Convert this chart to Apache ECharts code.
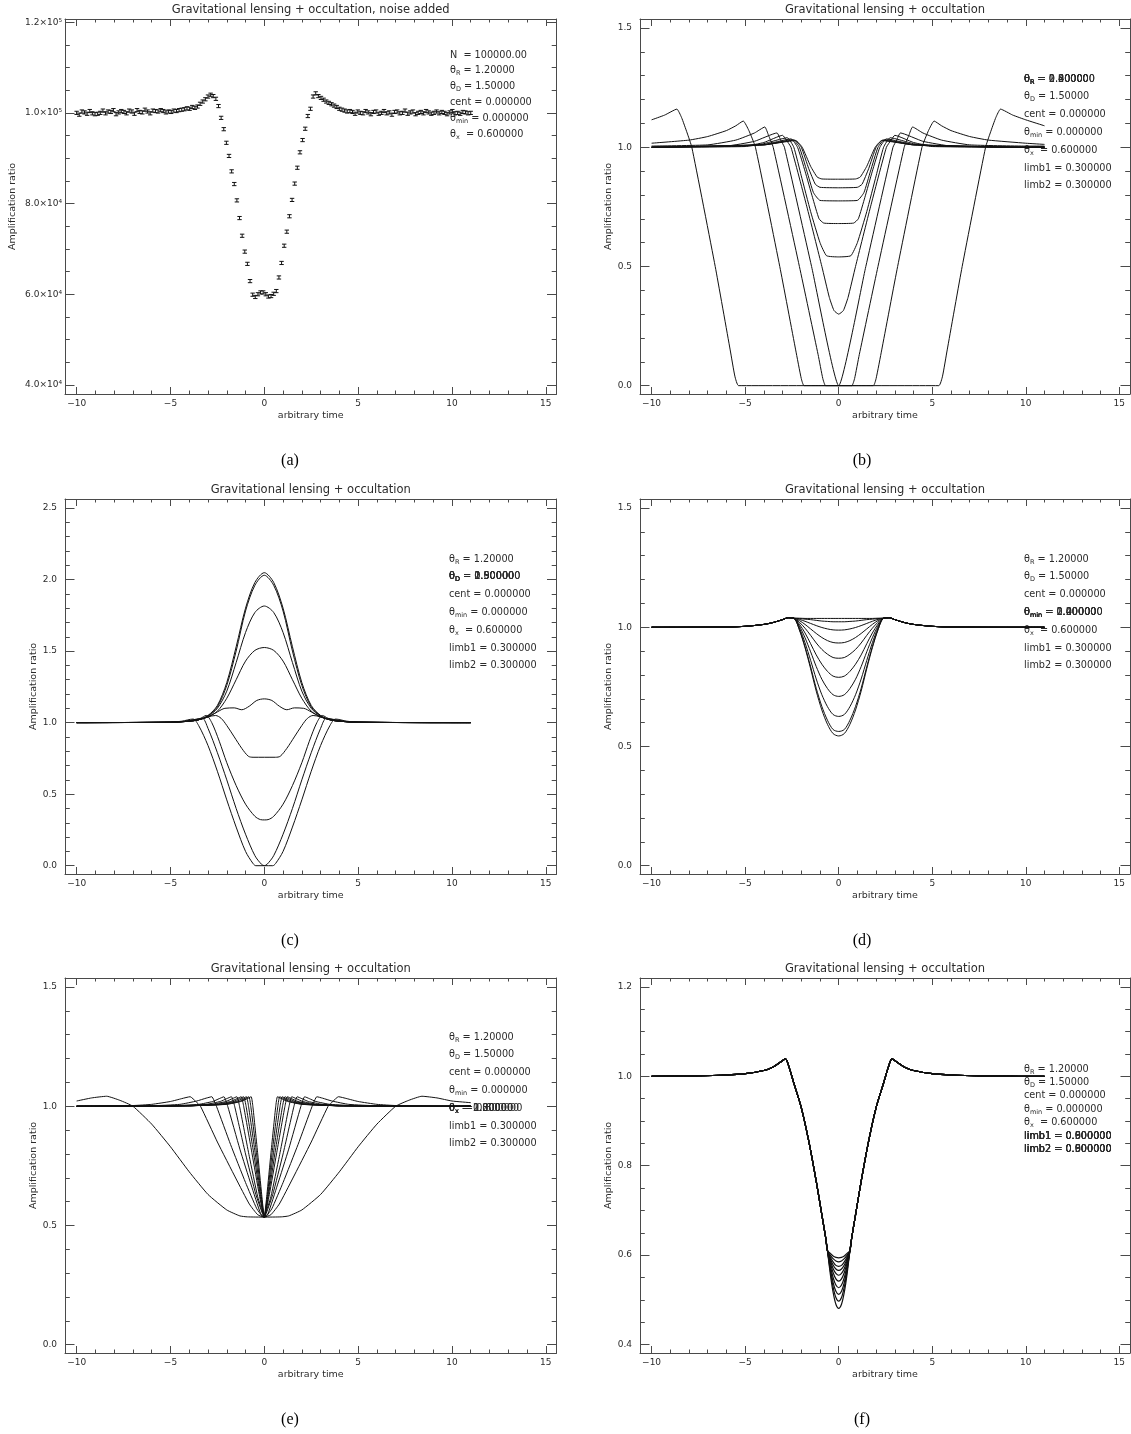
<!DOCTYPE html>
<html>
<head>
<meta charset="utf-8">
<script src="https://cdn.jsdelivr.net/npm/echarts@6/dist/echarts.min.js"></script>
<style>
  html, body { margin: 0; padding: 0; background: #fff; }
  #fig { width: 1131px; height: 1434px; }
</style>
</head>
<body>
<div id="fig"></div>
<script>
// ---- shared time axis ----
const xRange = [-10.62, 15.57]
const xMajor = [-10, -5, 0, 5, 10, 15]
const xMinor = [-10, -9, -8, -7, -6, -5, -4, -3, -2, -1, 0, 1, 2, 3, 4, 5, 6, 7, 8, 9, 10, 11, 12, 13, 14, 15]

// ---- (a) noisy counts, one sample every 0.14 from t = -10 ----
const aStart = -10
const aStep = 0.14
const aCounts = [
  100000, 99600, 100300, 100100, 99800, 100400, 99900, 99700, 99800, 100000,
  100500, 99900, 100300, 100200, 100600, 99700, 100100, 100400, 100200, 99900,
  100500, 100300, 99800, 100600, 100200, 100100, 100700, 100300, 99900, 100500,
  100400, 100300, 100600, 100400, 100100, 100300, 100200, 100500, 100400, 100600,
  100700, 100800, 101000, 100900, 101300, 101100, 101400, 102000, 102500, 103000,
  103600, 104000, 103700, 103100, 101500, 98900, 96400, 93400, 90500, 87100,
  84300, 80700, 76800, 72900, 69400, 66700, 62900, 59900, 59400, 60000,
  60400, 60400, 60000, 59500, 59600, 60100, 60700, 63700, 66900, 70700,
  73800, 77200, 80800, 84400, 87900, 91300, 94000, 96500, 99300, 100900,
  103600, 104300, 103700, 103300, 102900, 102500, 102200, 101900, 101600, 101300,
  100900, 100700, 100500, 100300, 100400,
  100200, 99800, 100300, 100000, 99900, 100400, 100100, 99700, 100200, 100300,
  99800, 100000, 100400, 99900, 100100, 99600, 100200, 100300, 99900, 100000,
  100500, 99800, 100100, 100300, 99700, 100000, 100200, 99900, 100400, 100100,
  99800, 100000, 100300, 99900, 100200, 100000, 99700, 100100, 100400, 99900,
  100000, 99800, 100200, 100100, 99900, 100000
]
const aErr = 350
const aYMajor = [40000, 60000, 80000, 100000, 120000]
const aYLabels = ['4.0×10⁴', '6.0×10⁴', '8.0×10⁴', '1.0×10⁵', '1.2×10⁵']
const aYMinor = [40000, 45000, 50000, 55000, 60000, 65000, 70000, 75000, 80000, 85000,
  90000, 95000, 100000, 105000, 110000, 115000, 120000]

// ---- (b)-(f): curves are symmetric in t; left halves [t, ratio] up to t = 0, plus value at t = 11 ----
const bHalves = [
  [[-10, 1.115], [-9.3, 1.135], [-8.65, 1.16], [-8.4, 1.125], [-8.1, 1.06], [-7.85, 1.0], [-6.6, 0.5], [-5.8, 0.15], [-5.55, 0.04], [-5.35, 0], [0, 0]],
  [[-10, 1.017], [-8, 1.03], [-7, 1.045], [-6, 1.07], [-5.5, 1.09], [-5.1, 1.11], [-4.8, 1.07], [-4.45, 1.0], [-3.15, 0.5], [-2.3, 0.15], [-2.0, 0.03], [-1.85, 0], [0, 0]],
  [[-10, 1.005], [-7, 1.01], [-5.5, 1.03], [-4.5, 1.06], [-3.95, 1.085], [-3.75, 1.05], [-3.5, 1.0], [-2.1, 0.5], [-1.1, 0.13], [-0.85, 0.03], [-0.7, 0], [0, 0]],
  [[-10, 1.0], [-6, 1.005], [-4.5, 1.025], [-3.3, 1.06], [-3.1, 1.03], [-2.9, 1.0], [-1.45, 0.5], [0, 0]],
  [[-10, 1.0], [-5, 1.005], [-4, 1.02], [-3, 1.05], [-2.8, 1.03], [-2.55, 1.0], [-1.7, 0.75], [-0.9, 0.5], [-0.5, 0.37], [-0.25, 0.315], [0, 0.3]],
  [[-10, 1.0], [-5, 1.003], [-4, 1.015], [-2.75, 1.04], [-2.4, 1.0], [-2.0, 0.88], [-1.5, 0.73], [-1.0, 0.6], [-0.65, 0.545], [0, 0.54]],
  [[-10, 1.0], [-4, 1.012], [-2.55, 1.035], [-2.2, 1.0], [-1.8, 0.9], [-1.4, 0.79], [-1.05, 0.7], [-0.8, 0.682], [0, 0.68]],
  [[-10, 1.0], [-4, 1.01], [-2.45, 1.032], [-2.1, 1.0], [-1.7, 0.9], [-1.35, 0.81], [-1.0, 0.777], [0, 0.775]],
  [[-10, 1.0], [-4, 1.01], [-2.35, 1.03], [-2.0, 1.0], [-1.6, 0.91], [-1.25, 0.845], [-1.0, 0.832], [0, 0.83]],
  [[-10, 1.0], [-4, 1.01], [-2.3, 1.028], [-1.95, 1.0], [-1.5, 0.92], [-1.15, 0.875], [-0.9, 0.867], [0, 0.866]]
]
const bTails = [1.09, 1.012, 1.005, 1.003, 1.0, 1.0, 1.0, 1.0, 1.0, 1.0]

const cHalves = [
  [[-10, 1], [-5, 1.003], [-4, 1.01], [-3.5, 1.02], [-3, 1.05], [-2.5, 1.12], [-2, 1.28], [-1.5, 1.53], [-1, 1.8], [-0.5, 1.98], [0, 2.048]],
  [[-10, 1], [-5, 1.003], [-4, 1.01], [-3.5, 1.02], [-3, 1.048], [-2.5, 1.11], [-2, 1.26], [-1.5, 1.5], [-1, 1.78], [-0.5, 1.96], [0, 2.03]],
  [[-10, 1], [-5, 1.003], [-4, 1.01], [-3.5, 1.02], [-3, 1.045], [-2.5, 1.1], [-2, 1.22], [-1.5, 1.42], [-1, 1.63], [-0.5, 1.77], [0, 1.815]],
  [[-10, 1], [-5, 1.003], [-4, 1.01], [-3.5, 1.02], [-3, 1.04], [-2.5, 1.08], [-2, 1.17], [-1.5, 1.3], [-1, 1.43], [-0.5, 1.505], [0, 1.525]],
  [[-10, 1], [-5, 1.003], [-4, 1.01], [-3.5, 1.02], [-3, 1.04], [-2.5, 1.075], [-2.1, 1.1], [-1.6, 1.103], [-1.2, 1.09], [-0.8, 1.115], [-0.4, 1.155], [0, 1.166]],
  [[-10, 1], [-5, 1.003], [-4, 1.01], [-3.5, 1.02], [-3, 1.04], [-2.6, 1.05], [-2.3, 1.03], [-2, 0.98], [-1.6, 0.9], [-1.2, 0.82], [-0.85, 0.765], [-0.6, 0.758], [0, 0.758]],
  [[-10, 1], [-5, 1.003], [-4, 1.012], [-3.4, 1.03], [-3.1, 1.05], [-2.8, 1.0], [-2.4, 0.87], [-2, 0.72], [-1.5, 0.56], [-1, 0.43], [-0.5, 0.345], [-0.2, 0.322], [0, 0.32]],
  [[-10, 1], [-5, 1.003], [-4.2, 1.01], [-3.6, 1.025], [-3.3, 1.03], [-3, 0.96], [-2.5, 0.79], [-2, 0.6], [-1.5, 0.4], [-1, 0.22], [-0.5, 0.07], [-0.15, 0.01], [0, 0]],
  [[-10, 1], [-5, 1.003], [-4.4, 1.01], [-3.8, 1.025], [-3.5, 0.98], [-3, 0.84], [-2.5, 0.66], [-2, 0.46], [-1.5, 0.27], [-1, 0.1], [-0.6, 0.015], [-0.45, 0], [0, 0]]
]
const cTails = [1, 1, 1, 1, 1, 1, 1, 1, 1]

// (d) shared shoulder, then dips of different depth
const dShoulder = [[-10, 1], [-6, 1.001], [-5, 1.004], [-4, 1.012], [-3.5, 1.02], [-3, 1.032], [-2.7, 1.04], [-2.4, 1.038]]
const dDipT = [-2.1, -1.8, -1.5, -1.2, -0.9, -0.6, -0.3, 0]
const dDips = [
  [1.038, 1.037, 1.037, 1.037, 1.037, 1.037, 1.037, 1.037],
  [1.0365, 1.034, 1.032, 1.029, 1.026, 1.0245, 1.023, 1.023],
  [1.033, 1.025, 1.016, 1.007, 0.999, 0.993, 0.989, 0.988],
  [1.028, 1.012, 0.993, 0.974, 0.957, 0.944, 0.936, 0.934],
  [1.021, 0.996, 0.966, 0.934, 0.907, 0.887, 0.873, 0.87],
  [1.013, 0.976, 0.931, 0.884, 0.845, 0.815, 0.795, 0.79],
  [1.005, 0.956, 0.897, 0.835, 0.782, 0.743, 0.717, 0.71],
  [0.997, 0.935, 0.861, 0.783, 0.717, 0.667, 0.634, 0.626],
  [0.99, 0.919, 0.834, 0.744, 0.668, 0.61, 0.571, 0.563],
  [0.989, 0.914, 0.826, 0.732, 0.653, 0.593, 0.554, 0.544]
]

const eHalves = [
  [[-10, 1.022], [-9.2, 1.035], [-8.4, 1.042], [-7.7, 1.025], [-7, 1.0], [-6, 0.925], [-5, 0.83], [-4, 0.725], [-3, 0.63], [-2, 0.565], [-1.3, 0.54], [-0.9, 0.536], [0, 0.535]],
  [[-10, 1.0], [-7, 1.003], [-6, 1.008], [-5, 1.02], [-4.4, 1.032], [-3.95, 1.04], [-3.65, 1.02], [-3.4, 1.0], [-2.5, 0.85], [-1.5, 0.695], [-0.8, 0.59], [-0.35, 0.545], [0, 0.535]],
  [[-10, 1], [-6, 1.002], [-4.5, 1.008], [-3.6, 1.022], [-3.1, 1.034], [-2.8, 1.04], [-2.55, 1.0], [-1.8, 0.84], [-1.0, 0.68], [-0.4, 0.57], [-0.1, 0.538], [0, 0.535]],
  [[-10, 1], [-5, 1.002], [-3.5, 1.008], [-2.75, 1.02], [-2.4, 1.032], [-2.15, 1.04], [-1.95, 1.0], [-1.3, 0.82], [-0.7, 0.67], [-0.2, 0.55], [0, 0.535]],
  [[-10, 1], [-4.5, 1.002], [-3.1, 1.008], [-2.35, 1.02], [-2.0, 1.032], [-1.75, 1.04], [-1.58, 1.0], [-1.0, 0.8], [-0.45, 0.63], [-0.1, 0.55], [0, 0.535]],
  [[-10, 1], [-4, 1.002], [-2.8, 1.008], [-2.05, 1.02], [-1.7, 1.032], [-1.46, 1.04], [-1.32, 1.0], [-0.8, 0.79], [-0.35, 0.62], [-0.05, 0.545], [0, 0.535]],
  [[-10, 1], [-4, 1.002], [-2.6, 1.008], [-1.8, 1.02], [-1.45, 1.032], [-1.23, 1.04], [-1.1, 1.0], [-0.65, 0.8], [-0.27, 0.63], [0, 0.535]],
  [[-10, 1], [-4, 1.002], [-2.4, 1.008], [-1.65, 1.02], [-1.3, 1.032], [-1.1, 1.04], [-0.97, 1.0], [-0.56, 0.8], [-0.23, 0.63], [0, 0.535]],
  [[-10, 1], [-4, 1.002], [-2.25, 1.008], [-1.5, 1.02], [-1.15, 1.032], [-0.95, 1.04], [-0.84, 1.0], [-0.48, 0.8], [-0.2, 0.63], [0, 0.535]],
  [[-10, 1], [-4, 1.002], [-2.1, 1.008], [-1.35, 1.02], [-1.02, 1.032], [-0.82, 1.04], [-0.72, 1.0], [-0.41, 0.8], [-0.17, 0.63], [0, 0.535]],
  [[-10, 1], [-4, 1.002], [-2.0, 1.008], [-1.25, 1.02], [-0.9, 1.032], [-0.7, 1.04], [-0.61, 1.0], [-0.35, 0.8], [-0.14, 0.63], [0, 0.535]]
]
const eTails = [1.015, 1.003, 1, 1, 1, 1, 1, 1, 1, 1, 1]

// (f) shared flank, bottoms differ with limb darkening
const fFlank = [[-10, 1.0], [-8, 1.001], [-6, 1.003], [-5, 1.006], [-4, 1.013], [-3.5, 1.021], [-3.1, 1.032], [-2.85, 1.039], [-2.65, 1.02],
  [-2.4, 0.985], [-2.0, 0.93], [-1.6, 0.855], [-1.2, 0.765], [-0.9, 0.69], [-0.7, 0.64], [-0.6, 0.61]]
const fBottomT = [-0.45, -0.3, -0.15, 0]
const fBottoms = [
  [0.604, 0.598, 0.595, 0.594],
  [0.600, 0.592, 0.587, 0.585],
  [0.596, 0.585, 0.577, 0.575],
  [0.592, 0.578, 0.569, 0.566],
  [0.588, 0.570, 0.559, 0.555],
  [0.583, 0.561, 0.547, 0.542],
  [0.577, 0.550, 0.533, 0.527],
  [0.571, 0.539, 0.519, 0.512],
  [0.565, 0.529, 0.505, 0.497],
  [0.558, 0.517, 0.490, 0.481]
]

// y ticks
const unitMajor = [0, 0.5, 1.0, 1.5]
const unitMinor = [0, 0.1, 0.2, 0.3, 0.4, 0.5, 0.6, 0.7, 0.8, 0.9, 1.0, 1.1, 1.2, 1.3, 1.4, 1.5]
const cMajor = [0, 0.5, 1.0, 1.5, 2.0, 2.5]
const cMinor = [0, 0.1, 0.2, 0.3, 0.4, 0.5, 0.6, 0.7, 0.8, 0.9, 1.0, 1.1, 1.2, 1.3, 1.4, 1.5,
  1.6, 1.7, 1.8, 1.9, 2.0, 2.1, 2.2, 2.3, 2.4, 2.5]
const fMajor = [0.4, 0.6, 0.8, 1.0, 1.2]
const fMinor = [0.4, 0.45, 0.5, 0.55, 0.6, 0.65, 0.7, 0.75, 0.8, 0.85, 0.9, 0.95, 1.0, 1.05, 1.1, 1.15, 1.2]

// ---- styling / layout ----
const FONT = 'DejaVu Sans'
const INK = '#111'
const AXIS = '#4a4a4a'
const TEXT = '#2b2b2b'
const TITLE = 'Gravitational lensing + occultation'

const mirror = (half, tail) => {
  const right = half.slice(0, -1).reverse().map(([t, v]) => [-t, v])
  return [...half, ...right, [11, tail]]
}

const bCurves = bHalves.map((h, i) => mirror(h, bTails[i]))
const cCurves = cHalves.map((h, i) => mirror(h, cTails[i]))
const dCurves = dDips.map(d => mirror([...dShoulder, ...dDipT.map((t, j) => [t, d[j]])], 1.0))
const eCurves = eHalves.map((h, i) => mirror(h, eTails[i]))
const fCurves = fBottoms.map(b => mirror([...fFlank, ...fBottomT.map((t, j) => [t, b[j]])], 1.0))
const aTimes = aCounts.map((_, i) => +(aStart + i * aStep).toFixed(2))

const baseNotes = [
  ['θ', 'R', ' = 1.20000'], ['θ', 'D', ' = 1.50000'], ['cent', '', ' = 0.000000'],
  ['θ', 'min', ' = 0.000000'], ['θ', 'x', '  = 0.600000'], ['limb1', '', ' = 0.300000'], ['limb2', '', ' = 0.300000']
]
const aNotes = [
  ['N', '', '  = 100000.00'], ['θ', 'R', ' = 1.20000'], ['θ', 'D', ' = 1.50000'],
  ['cent', '', ' = 0.000000'], ['θ', 'min', ' = 0.000000'], ['θ', 'x', '  = 0.600000']
]

const fmt1 = v => Number(v).toFixed(1)
const panels = [
  { left: 65, top: 19, width: 491.5, yRange: [38000, 120700], yMajor: aYMajor, yMinor: aYMinor,
    yFmt: v => aYLabels[aYMajor.findIndex(m => Math.abs(m - v) < 1)], nameGap: 47, labelMargin: 3,
    title: TITLE + ', noise added', caption: '(a)', capX: 290,
    note: { x: 450, y: 55, dy: 15.8, lines: aNotes, over: [] } },
  { left: 640, top: 19, width: 490, yRange: [-0.035, 1.538], yMajor: unitMajor, yMinor: unitMinor,
    yFmt: fmt1, nameGap: 26, labelMargin: 8, title: TITLE, caption: '(b)', capX: 862, curves: bCurves, smooth: 0.15,
    note: { x: 1024, y: 79, dy: 17.8, lines: baseNotes, over: [[0, ['0.400000', '0.800000', '2.00000']]] } },
  { left: 65, top: 499, width: 491.5, yRange: [-0.058, 2.563], yMajor: cMajor, yMinor: cMinor,
    yFmt: fmt1, nameGap: 26, labelMargin: 8, title: TITLE, caption: '(c)', capX: 290, curves: cCurves, smooth: 0.3,
    note: { x: 449, y: 559, dy: 17.8, lines: baseNotes, over: [[1, ['0.500000', '0.900000', '2.00000']]] } },
  { left: 640, top: 499, width: 490, yRange: [-0.035, 1.538], yMajor: unitMajor, yMinor: unitMinor,
    yFmt: fmt1, nameGap: 26, labelMargin: 8, title: TITLE, caption: '(d)', capX: 862, curves: dCurves, smooth: 0.3,
    note: { x: 1024, y: 559, dy: 17.8, lines: baseNotes, over: [[3, ['0.400000', '1.20000', '2.00000']]] } },
  { left: 65, top: 978, width: 491.5, yRange: [-0.035, 1.538], yMajor: unitMajor, yMinor: unitMinor,
    yFmt: fmt1, nameGap: 26, labelMargin: 8, title: TITLE, caption: '(e)', capX: 290, curves: eCurves, smooth: 0.15,
    note: { x: 449, y: 1037, dy: 17.8, lines: baseNotes, over: [[4, ['0.800000', '1.20000', '2.00000']]] } },
  { left: 640, top: 978, width: 490, yRange: [0.381, 1.22], yMajor: fMajor, yMinor: fMinor,
    yFmt: fmt1, nameGap: 26, labelMargin: 8, title: TITLE, caption: '(f)', capX: 862, curves: fCurves, smooth: 0.3, lineWidth: 1.2,
    note: { x: 1024, y: 1069, dy: 13.4, lines: baseNotes, over: [[5, ['0.000000', '0.600000', '0.900000']], [6, ['0.000000', '0.600000', '0.900000']]] } }
]
const PLOT_H = 375

const tickStyle = { color: AXIS, width: 1 }
const labelStyle = { fontFamily: FONT, fontSize: 9, color: TEXT }

function axis(g, pos, range, ticks, len, extra) {
  return Object.assign({
    type: 'value', gridIndex: g, position: pos, min: range[0], max: range[1],
    splitLine: { show: false },
    axisLine: { show: false, onZero: false },
    axisLabel: { show: false },
    axisTick: { show: true, inside: true, length: len, customValues: ticks, lineStyle: tickStyle }
  }, extra || {})
}

const xAxis = []
const yAxis = []
const grid = []
const series = []
const graphics = []

panels.forEach((p, g) => {
  grid.push({ left: p.left, top: p.top, width: p.width, height: PLOT_H, containLabel: false, outerBoundsMode: 'none' })
  const line = { show: true, onZero: false, lineStyle: { color: AXIS, width: 1 } }
  xAxis.push(
    axis(g, 'bottom', xRange, xMajor, 7, {
      axisLine: line,
      axisLabel: Object.assign({ show: true, customValues: xMajor, margin: 5, hideOverlap: false,
        formatter: v => (v < 0 ? '−' + Math.abs(v) : String(v)) }, labelStyle),
      name: 'arbitrary time', nameLocation: 'middle', nameGap: 17, nameMoveOverlap: false,
      nameTextStyle: { fontFamily: FONT, fontSize: 9.5, color: TEXT }
    }),
    axis(g, 'bottom', xRange, xMinor, 3.5),
    axis(g, 'top', xRange, xMajor, 7, { axisLine: line }),
    axis(g, 'top', xRange, xMinor, 3.5)
  )
  yAxis.push(
    axis(g, 'left', p.yRange, p.yMajor, 9.5, {
      axisLine: line,
      axisLabel: Object.assign({ show: true, customValues: p.yMajor, margin: p.labelMargin, hideOverlap: false,
        formatter: p.yFmt }, labelStyle),
      name: 'Amplification ratio', nameLocation: 'middle', nameGap: p.nameGap, nameMoveOverlap: false,
      nameTextStyle: { fontFamily: FONT, fontSize: 9.5, color: TEXT }
    }),
    axis(g, 'left', p.yRange, p.yMinor, 4.8),
    axis(g, 'right', p.yRange, p.yMajor, 9.5, { axisLine: line }),
    axis(g, 'right', p.yRange, p.yMinor, 4.8)
  )

  if (p.curves) {
    p.curves.forEach(pts => series.push({
      type: 'line', xAxisIndex: 4 * g, yAxisIndex: 4 * g, data: pts,
      symbol: 'none', showSymbol: false, smooth: p.smooth, silent: true,
      lineStyle: { color: INK, width: p.lineWidth || 1 }
    }))
  }

  // title, caption
  graphics.push({
    type: 'text', x: p.left + p.width / 2, y: p.top - 8.5, silent: true,
    style: { text: p.title, fill: TEXT, fontFamily: FONT, fontSize: 11.5, align: 'center', verticalAlign: 'middle',
      textAlign: 'center', textVerticalAlign: 'middle' }
  })
  graphics.push({
    type: 'text', x: p.capX, y: p.top + 442, silent: true,
    style: { text: p.caption, fill: '#000', fontFamily: 'Liberation Serif', fontSize: 16, align: 'center', verticalAlign: 'middle',
      textAlign: 'center', textVerticalAlign: 'middle' }
  })

  // parameter notes (overprinted values where a parameter was stepped)
  const n = p.note
  n.lines.forEach((parts, k) => {
    const variants = [parts[2]]
    n.over.forEach(([idx, vals]) => { if (idx === k) vals.forEach(v => variants.push(' = ' + v)) })
    variants.forEach(tail => graphics.push(noteText(n.x, n.y + k * n.dy, parts[0], parts[1], tail)))
  })
})

function noteText(x, y, head, sub, tail) {
  const text = '{t|' + head + '}' + (sub ? '{s|' + sub + '}' : '') + '{t|' + tail + '}'
  return {
    type: 'text', x, y, silent: true,
    style: {
      text, fill: TEXT, verticalAlign: 'middle', textVerticalAlign: 'middle',
      rich: {
        t: { fontFamily: FONT, fontSize: 9.7, fill: TEXT, color: TEXT, lineHeight: 13, verticalAlign: 'middle' },
        s: { fontFamily: FONT, fontSize: 6.5, fill: TEXT, color: TEXT, lineHeight: 7, verticalAlign: 'bottom' }
      }
    }
  }
}

// (a) error bars
series.unshift({
  type: 'custom', xAxisIndex: 0, yAxisIndex: 0, silent: true, clip: true,
  data: aTimes.map((t, i) => [t, aCounts[i]]),
  renderItem: (params, api) => {
    const t = api.value(0)
    const v = api.value(1)
    const lo = api.coord([t, v - aErr])
    const hi = api.coord([t, v + aErr])
    const w = 2.2
    const st = { stroke: INK, lineWidth: 1 }
    return {
      type: 'group',
      children: [
        { type: 'line', shape: { x1: lo[0], y1: lo[1], x2: hi[0], y2: hi[1] }, style: st },
        { type: 'line', shape: { x1: lo[0] - w, y1: lo[1], x2: lo[0] + w, y2: lo[1] }, style: st },
        { type: 'line', shape: { x1: hi[0] - w, y1: hi[1], x2: hi[0] + w, y2: hi[1] }, style: st }
      ]
    }
  }
})

const chart = echarts.init(document.getElementById('fig'), null, { renderer: 'canvas' })
chart.setOption({
  backgroundColor: '#fff',
  animation: false,
  grid, xAxis, yAxis, series,
  graphic: { elements: graphics }
})
</script>
</body>
</html>
